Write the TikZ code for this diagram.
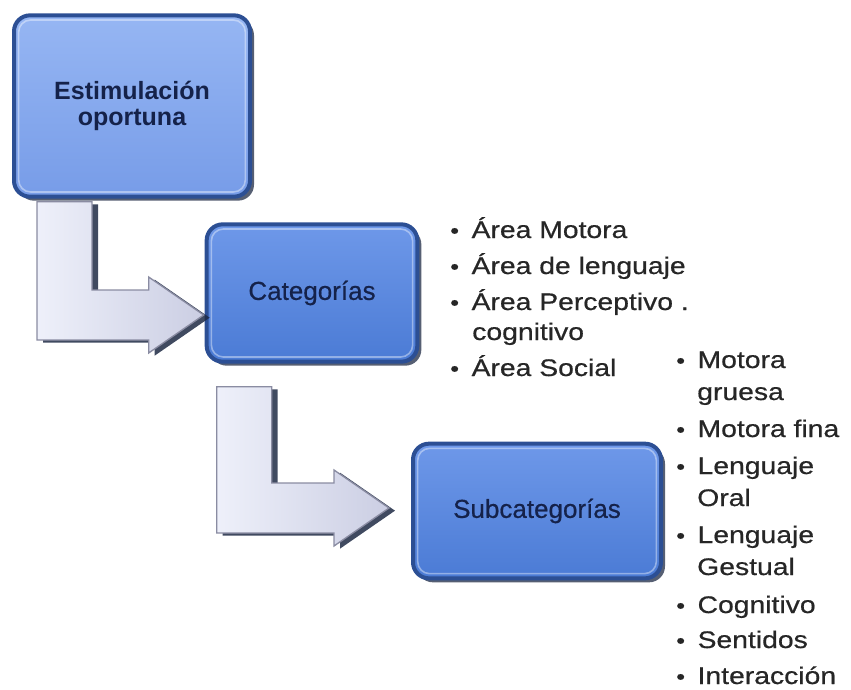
\documentclass[tikz,border=0pt]{standalone}
\usepackage{fontspec}
\setmainfont{Liberation Sans}
\newfontfamily\listafont{Liberation Sans}[FakeStretch=1.18,FakeBold=0.6]
\newfontfamily\cajafont{Liberation Sans}[FakeBold=0.5]
\usetikzlibrary{calc,shadows}

\definecolor{borde}{HTML}{2C4F94}
\definecolor{azulA}{HTML}{96B6F3}
\definecolor{azulB}{HTML}{779CE8}
\definecolor{azulC}{HTML}{6E98E9}
\definecolor{azulD}{HTML}{4B7BD5}
\definecolor{sombra}{HTML}{1E2A44}
\definecolor{tinta}{HTML}{15224A}
\definecolor{gris}{HTML}{262626}
\definecolor{flechaA}{HTML}{EEF0FA}
\definecolor{flechaB}{HTML}{CBCEE3}
\definecolor{flechaborde}{HTML}{8A8CA2}

\tikzset{
  caja/.style={rounded corners=12pt, draw=borde, line width=3pt, inner sep=0pt,
    align=center, text=tinta,
    drop shadow={shadow xshift=3pt, shadow yshift=-3pt, fill=sombra, opacity=.75}},
  brillo/.style={rounded corners=9pt, draw=white, opacity=.4, line width=1.2pt},
  flechacuerpo/.style={left color=flechaA, right color=flechaB, draw=flechaborde, line width=1pt},
  flechasombra/.style={fill=sombra, opacity=.85},
  lista/.style={anchor=base west, inner sep=0pt, text=gris,
    font=\listafont\fontsize{18}{21}\selectfont},
}

\newcommand{\pto}{\makebox[16pt][l]{\fontsize{16}{16}\selectfont\textbullet}}

% bent block arrow: #1 top left of the shaft, #2 tip
\newcommand{\bentarrow}[2]{%
  \coordinate (ba) at (#1);
  \coordinate (bt) at (#2);
  \fill[flechasombra, transform canvas={shift={(4.5pt,-2pt)}}]
    (ba) -- ++(55,0) |- ($(bt)+(-55,-25)$) -- ++(0,-13) -- (bt)
    -- ($(bt)+(-55,38)$) -- ++(0,-13) -| (ba) -- cycle;
  \draw[flechacuerpo]
    (ba) -- ++(55,0) |- ($(bt)+(-55,-25)$) -- ++(0,-13) -- (bt)
    -- ($(bt)+(-55,38)$) -- ++(0,-13) -| (ba) -- cycle;
}

\begin{document}
\begin{tikzpicture}[x=0.75pt,y=-0.75pt]
\useasboundingbox (0,0) rectangle (851,690);

\node[caja, top color=azulA, bottom color=azulB, minimum width=177pt, minimum height=136pt,
  font=\bfseries\fontsize{18.75}{19.5}\selectfont] (est) at (132,106) {Estimulación\\oportuna};
\node[caja, top color=azulC, bottom color=azulD, minimum width=158pt, minimum height=103pt,
  font=\cajafont\fontsize{19.5}{22}\selectfont] (cat) at (312,293) {Categorías};
\node[caja, top color=azulC, bottom color=azulD, minimum width=186pt, minimum height=101pt,
  font=\cajafont\fontsize{19.5}{22}\selectfont] (sub) at (537,511) {Subcategorías};

\draw[brillo] ([shift={(5pt,-5pt)}]est.north west) rectangle ([shift={(-5pt,5pt)}]est.south east);
\draw[brillo] ([shift={(5pt,-5pt)}]cat.north west) rectangle ([shift={(-5pt,5pt)}]cat.south east);
\draw[brillo] ([shift={(5pt,-5pt)}]sub.north west) rectangle ([shift={(-5pt,5pt)}]sub.south east);

\bentarrow{$(est.south west)+(25,3)$}{$(cat.west)+(-1,22)$}
\bentarrow{$(cat.south west)+(12,23)$}{$(sub.west)+(-22,-3)$}

% areas
\node[lista] (a1) at (450,238) {\pto Área Motora};
\node[lista] (a2) at (450,274) {\pto Área de lenguaje};
\node[lista] (a3) at (450,310) {\pto Área Perceptivo .};
\node[lista] (a4) at (472,340) {cognitivo};
\node[lista] (a5) at (450,376) {\pto Área Social};

% subcategorias
\node[lista] (s1) at (676,368) {\pto Motora};
\node[lista] (s2) at (697,400) {gruesa};
\node[lista] (s3) at (676,437) {\pto Motora fina};
\node[lista] (s4) at (676,474) {\pto Lenguaje};
\node[lista] (s5) at (697,506) {Oral};
\node[lista] (s6) at (676,543) {\pto Lenguaje};
\node[lista] (s7) at (697,575) {Gestual};
\node[lista] (s8) at (676,613) {\pto Cognitivo};
\node[lista] (s9) at (676,648) {\pto Sentidos};
\node[lista] (s10) at (676,684) {\pto Interacción};
\end{tikzpicture}
\end{document}
